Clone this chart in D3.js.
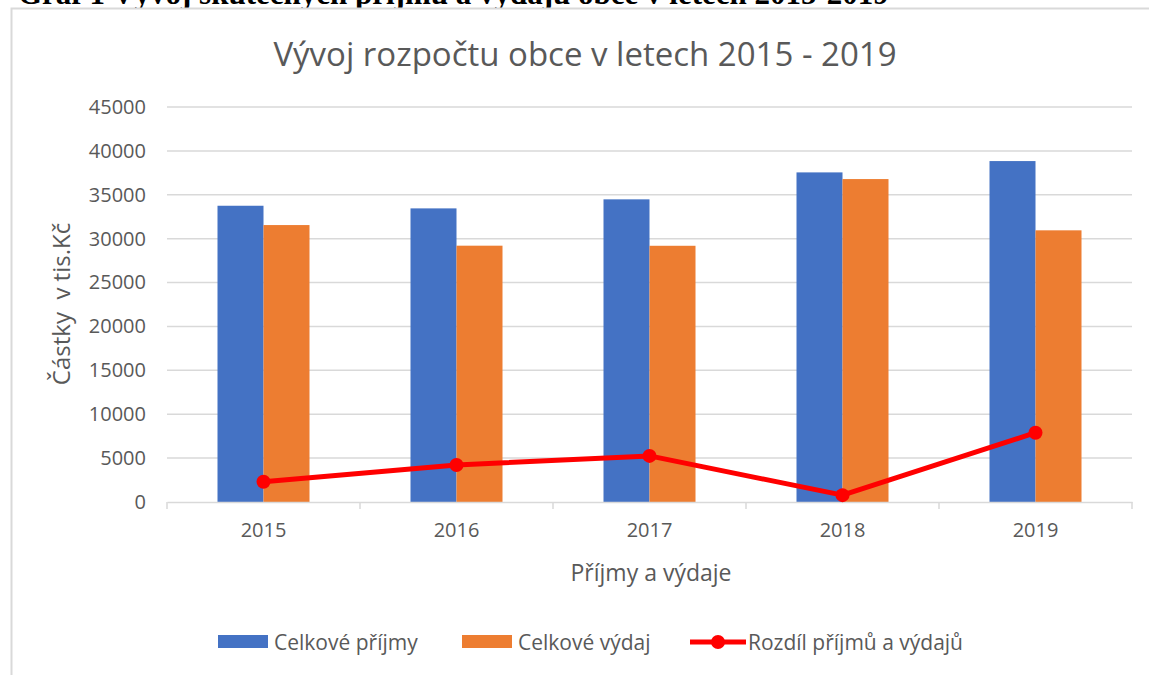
<!DOCTYPE html>
<html>
<head>
<meta charset="utf-8">
<script src="https://cdn.jsdelivr.net/npm/d3@7"></script>
<style>
  body { margin: 0; background: #fff; }
  svg { display: block; }
  text { font-family: "Open Sans", "Noto Sans", sans-serif; }
</style>
</head>
<body>
<div id="chart"></div>
<script>
const years = ["2015", "2016", "2017", "2018", "2019"];
const prijmy = [33750, 33450, 34480, 37550, 38840];
const vydaje = [31550, 29200, 29190, 36790, 30950];
const rozdil = [2300, 4220, 5250, 780, 7890];
const yTicks = [0, 5000, 10000, 15000, 20000, 25000, 30000, 35000, 40000, 45000];
const seriesNames = ["Celkové příjmy", "Celkové výdaj", "Rozdíl příjmů a výdajů"];

const W = 1149, H = 675;
const plot = { left: 167, right: 1132, top: 107, bottom: 502 };
const textColor = "#595959";

const svg = d3.select("#chart").append("svg")
    .attr("width", W)
    .attr("height", H);

// caption above the chart frame (cut off in the original)
svg.append("text")
    .attr("x", 18)
    .attr("y", 4)
    .style("font-family", "'Liberation Serif', serif")
    .style("font-weight", "bold")
    .style("font-size", "31px")
    .style("fill", "#000")
    .text("Graf 1 Vývoj skutečných příjmů a výdajů obce v letech 2015-2019");

// chart frame
svg.append("rect")
    .attr("x", 11.5)
    .attr("y", 8.5)
    .attr("width", W)
    .attr("height", H)
    .attr("fill", "#fff")
    .attr("stroke", "#d9d9d9")
    .attr("stroke-width", 2);

const x = d3.scaleBand().domain(years).range([plot.left, plot.right]);
const inner = d3.scaleBand().domain([0, 1]).range([0, 92]);
const y = d3.scaleLinear().domain([0, 45000]).range([plot.bottom, plot.top]);

// gridlines
svg.append("g")
    .selectAll("line")
    .data(yTicks.slice(1))
    .join("line")
    .attr("x1", plot.left)
    .attr("x2", plot.right)
    .attr("y1", d => y(d))
    .attr("y2", d => y(d))
    .attr("stroke", "#d9d9d9")
    .attr("stroke-width", 1.5);

// y axis labels
const yAxis = svg.append("g")
    .attr("transform", `translate(${plot.left},0)`)
    .call(d3.axisLeft(y).tickValues(yTicks).tickSize(0).tickPadding(21).tickFormat(d3.format("d")));
yAxis.select(".domain").remove();
yAxis.selectAll("text")
    .style("font-size", "20px")
    .style("fill", textColor)
    .style("font-family", "'Open Sans', sans-serif");

// bars
const bars = svg.append("g");
[prijmy, vydaje].forEach((vals, si) => {
    bars.selectAll(".bar" + si)
        .data(vals)
        .join("rect")
        .attr("class", "bar" + si)
        .attr("x", (d, i) => x(years[i]) + x.bandwidth() / 2 - 46 + inner(si))
        .attr("y", d => y(d))
        .attr("width", inner.bandwidth())
        .attr("height", d => y(0) - y(d))
        .attr("fill", si === 0 ? "#4472c4" : "#ed7d31");
});

// x axis
const xAxis = svg.append("g")
    .attr("transform", `translate(0,${plot.bottom})`)
    .call(d3.axisBottom(x).tickSize(0).tickPadding(21));
xAxis.select(".domain").attr("stroke", "#d9d9d9").attr("stroke-width", 1.5);
xAxis.selectAll("text")
    .style("font-size", "20px")
    .style("fill", textColor)
    .style("font-family", "'Open Sans', sans-serif");

// category separator ticks
svg.append("g")
    .selectAll("line")
    .data(years.concat(["end"]))
    .join("line")
    .attr("x1", (d, i) => i < years.length ? x(d) : plot.right)
    .attr("x2", (d, i) => i < years.length ? x(d) : plot.right)
    .attr("y1", plot.bottom)
    .attr("y2", plot.bottom + 7)
    .attr("stroke", "#d9d9d9")
    .attr("stroke-width", 1.5);

// difference line
const line = d3.line()
    .x((d, i) => x(years[i]) + x.bandwidth() / 2)
    .y(d => y(d));

svg.append("path")
    .datum(rozdil)
    .attr("d", line)
    .attr("fill", "none")
    .attr("stroke", "#ff0000")
    .attr("stroke-width", 5)
    .attr("stroke-linejoin", "round");

svg.append("g")
    .selectAll("circle")
    .data(rozdil)
    .join("circle")
    .attr("cx", (d, i) => x(years[i]) + x.bandwidth() / 2)
    .attr("cy", d => y(d))
    .attr("r", 7)
    .attr("fill", "#ff0000");

// title
svg.append("text")
    .attr("x", 585)
    .attr("y", 66)
    .attr("text-anchor", "middle")
    .style("font-size", "33px")
    .style("fill", textColor)
    .text("Vývoj rozpočtu obce v letech 2015 - 2019");

// axis titles
svg.append("text")
    .attr("transform", "translate(70,304) rotate(-90)")
    .attr("text-anchor", "middle")
    .style("font-size", "24px")
    .style("fill", textColor)
    .style("white-space", "pre")
    .text("Částky  v tis.Kč");

svg.append("text")
    .attr("x", 651)
    .attr("y", 581)
    .attr("text-anchor", "middle")
    .style("font-size", "23px")
    .style("fill", textColor)
    .text("Příjmy a výdaje");

// legend
const legend = svg.append("g").attr("transform", "translate(0,642)");
const legendX = [218, 462, 690];
seriesNames.forEach((name, i) => {
    const g = legend.append("g").attr("transform", `translate(${legendX[i]},0)`);
    if (i < 2) {
        g.append("rect")
            .attr("x", 0).attr("y", -7)
            .attr("width", 50).attr("height", 13)
            .attr("fill", i === 0 ? "#4472c4" : "#ed7d31");
        g.append("text")
            .attr("x", 56).attr("y", 8)
            .style("font-size", "21px")
            .style("fill", textColor)
            .text(name);
    } else {
        g.append("line")
            .attr("x1", 0).attr("x2", 56)
            .attr("y1", 0).attr("y2", 0)
            .attr("stroke", "#ff0000").attr("stroke-width", 5);
        g.append("circle")
            .attr("cx", 28).attr("cy", 0).attr("r", 7)
            .attr("fill", "#ff0000");
        g.append("text")
            .attr("x", 58).attr("y", 8)
            .style("font-size", "21px")
            .style("fill", textColor)
            .text(name);
    }
});
</script>
</body>
</html>
